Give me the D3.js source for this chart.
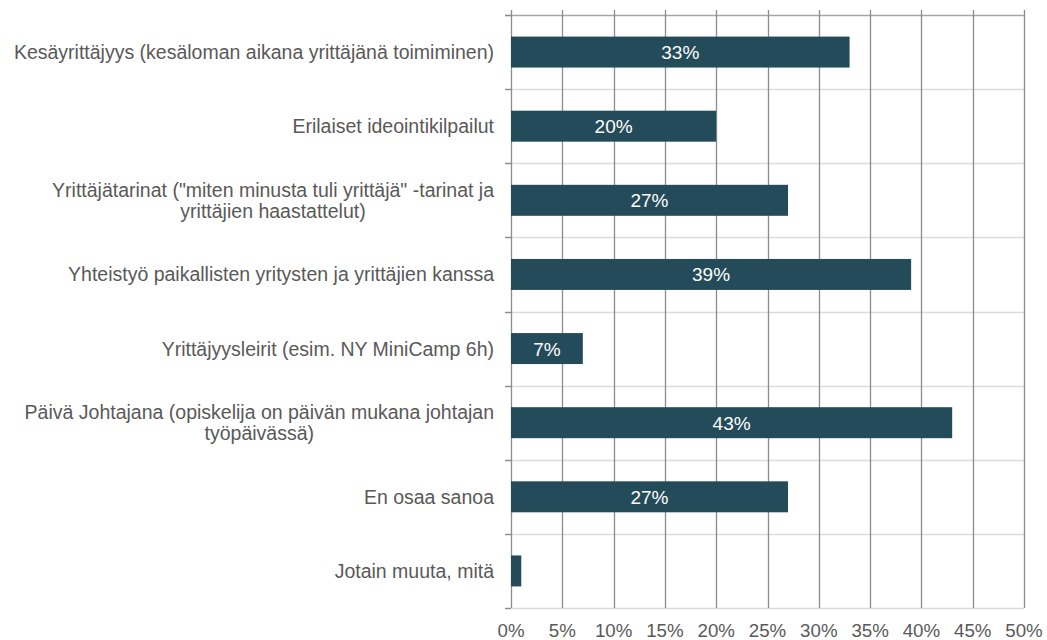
<!DOCTYPE html>
<html>
<head>
<meta charset="utf-8">
<script src="https://cdn.jsdelivr.net/npm/d3@7"></script>
<style>
  body { margin: 0; background: #fff; }
  text { font-family: "Liberation Sans", Arial, sans-serif; }
</style>
</head>
<body>
<script>
// category labels (lines as shown in the chart)
const categories = [
    ["Kesäyrittäjyys (kesäloman aikana yrittäjänä toimiminen)"],
    ["Erilaiset ideointikilpailut"],
    ["Yrittäjätarinat (\"miten minusta tuli yrittäjä\" -tarinat ja", "yrittäjien haastattelut)"],
    ["Yhteistyö paikallisten yritysten ja yrittäjien kanssa"],
    ["Yrittäjyysleirit (esim. NY MiniCamp 6h)"],
    ["Päivä Johtajana (opiskelija on päivän mukana johtajan", "työpäivässä)"],
    ["En osaa sanoa"],
    ["Jotain muuta, mitä"]
];
const values = [33, 20, 27, 39, 7, 43, 27, 1];
const showLabel = [true, true, true, true, true, true, true, false];
const xTicks = [0, 5, 10, 15, 20, 25, 30, 35, 40, 45, 50];

const w = 1047, h = 640;
const plotL = 511, plotR = 1024, plotT = 15, plotB = 608;

const svg = d3.select("body").append("svg")
    .attr("width", w)
    .attr("height", h);

const x = d3.scaleLinear().domain([0, 50]).range([plotL, plotR]);
const y = d3.scaleBand()
    .domain(d3.range(categories.length))
    .range([plotT, plotB])
    .paddingInner(0.582)
    .paddingOuter(0.291);
const step = y.step();

// horizontal lines at band edges (light, top one darker)
const edges = d3.range(categories.length + 1).map(i => plotT + i * step);
svg.selectAll(".hgrid")
    .data(edges)
    .enter()
    .append("line")
    .attr("x1", plotL - 6)
    .attr("x2", plotR)
    .attr("y1", d => Math.round(d) + 0.5)
    .attr("y2", d => Math.round(d) + 0.5)
    .style("stroke", (d, i) => i === 0 ? "#a6a6a6" : "#dcdcdc")
    .style("stroke-width", 1.3);

// vertical gridlines
svg.selectAll(".vgrid")
    .data(xTicks)
    .enter()
    .append("line")
    .attr("x1", d => Math.round(x(d)) + 0.5)
    .attr("x2", d => Math.round(x(d)) + 0.5)
    .attr("y1", 10)
    .attr("y2", plotB)
    .style("stroke", "#8c8c8c")
    .style("stroke-width", 1.3);

// small tick marks left of the axis
svg.selectAll(".ytick")
    .data(edges)
    .enter()
    .append("line")
    .attr("x1", plotL - 6)
    .attr("x2", plotL)
    .attr("y1", d => Math.round(d) + 0.5)
    .attr("y2", d => Math.round(d) + 0.5)
    .style("stroke", "#8c8c8c")
    .style("stroke-width", 1.3);

// bars
svg.selectAll(".bar")
    .data(values)
    .enter()
    .append("rect")
    .attr("x", x(0))
    .attr("y", (d, i) => y(i))
    .attr("width", d => x(d) - x(0))
    .attr("height", y.bandwidth())
    .style("fill", "#234b59");

// value labels
svg.selectAll(".val")
    .data(values)
    .enter()
    .filter((d, i) => showLabel[i])
    .append("text")
    .attr("x", d => (x(0) + x(d)) / 2)
    .attr("y", (d, i) => y(i) + y.bandwidth() / 2 + 7)
    .attr("text-anchor", "middle")
    .style("font-size", "19px")
    .style("fill", "#ffffff")
    .text(d => d + "%");

// category labels, lines centred within a right-aligned block
categories.forEach(function(lines, i) {
    const g = svg.append("text")
        .style("font-size", "19.5px")
        .style("fill", "#595959")
        .attr("text-anchor", "middle");
    const cy = y(i) + y.bandwidth() / 2;
    const lh = 21.5;
    const t0 = cy - (lines.length - 1) * lh / 2 + 7;
    const spans = lines.map((s, k) => g.append("tspan").attr("y", t0 + k * lh).text(s));
    const maxW = d3.max(spans, s => s.node().getComputedTextLength());
    const cx = 494 - maxW / 2;
    spans.forEach(s => s.attr("x", cx));
});

// x tick labels
svg.selectAll(".xlab")
    .data(xTicks)
    .enter()
    .append("text")
    .attr("x", d => x(d))
    .attr("y", 637)
    .attr("text-anchor", "middle")
    .style("font-size", "18.7px")
    .style("fill", "#595959")
    .text(d => d + "%");
</script>
</body>
</html>
